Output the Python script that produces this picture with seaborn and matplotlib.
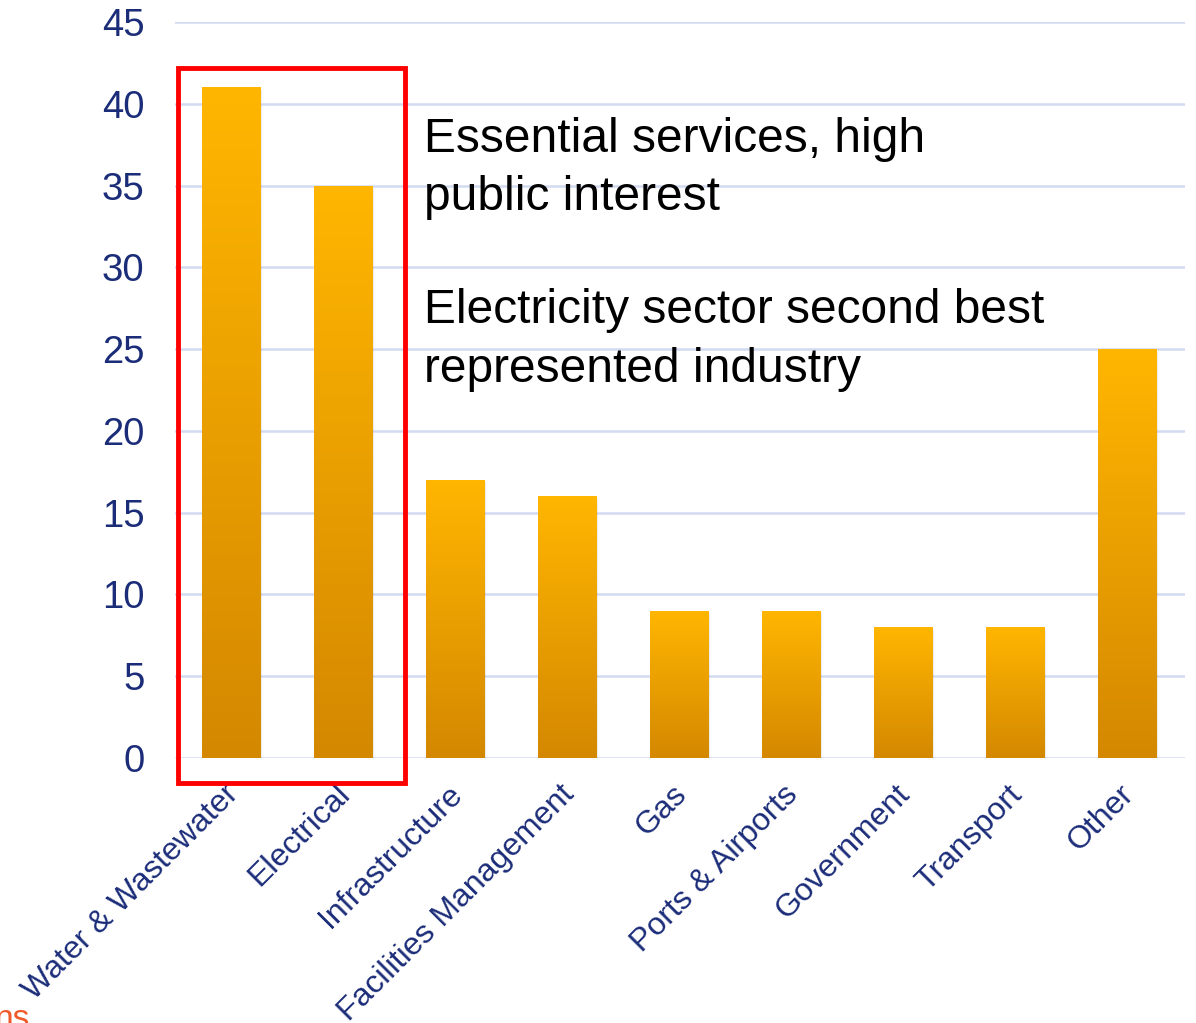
import numpy as np
import pandas as pd
import matplotlib
matplotlib.use("Agg")
import matplotlib.pyplot as plt
from matplotlib.patches import Rectangle
from matplotlib.colors import LinearSegmentedColormap
import matplotlib.transforms as mtransforms
import seaborn as sns

categories = ["Water & Wastewater", "Electrical", "Infrastructure", "Facilities Management",
              "Gas", "Ports & Airports", "Government", "Transport", "Other"]
counts = [41, 35, 17, 16, 9, 9, 8, 8, 25]
yticks = [0, 5, 10, 15, 20, 25, 30, 35, 40, 45]
note_lines = ["Essential services, high", "public interest",
              "Electricity sector second best", "represented industry"]
note_baselines = [37.04, 33.5, 26.59, 22.98]

sns.set_theme(style="white")
plt.rcParams['font.family'] = ['Liberation Sans', 'DejaVu Sans']

navy = "#1B2C78"
df = pd.DataFrame({"category": categories, "count": counts})

fig = plt.figure(figsize=(11.96, 10.23), dpi=100)
ax = fig.add_axes([175/1196, 1-758/1023, (1185-175)/1196, (758-22)/1023])

sns.barplot(data=df, x="category", y="count", ax=ax, color="#E8A000", width=0.52,
            saturation=1, edgecolor="none", zorder=3)

cmap = LinearSegmentedColormap.from_list("g", ["#D48800", "#FFB600"])
grad = np.linspace(0, 1, 256).reshape(-1, 1)
for p in list(ax.patches):
    x0, y0 = p.get_x(), p.get_y()
    w, h = p.get_width(), p.get_height()
    sh = Rectangle((x0 + 0.02, y0 - 0.15), w, h, facecolor="#000000", alpha=0.07,
                   edgecolor="none", zorder=2)
    ax.add_patch(sh)
    im = ax.imshow(grad, cmap=cmap, extent=(x0, x0 + w, y0, y0 + h), origin="lower",
                   aspect="auto", zorder=4)
    im.set_clip_path(p)
    p.set_alpha(0)

ax.set_xlim(-0.5, 8.52)
ax.set_ylim(0, 45)
ax.set_yticks(yticks)
ax.yaxis.grid(True, color="#D3DBF1", linewidth=1.8, zorder=0)
ax.set_axisbelow(True)
for s in ax.spines.values():
    s.set_visible(False)
ax.set_xlabel("")
ax.set_ylabel("")
ax.tick_params(axis="y", length=0, pad=22, labelsize=27.5, labelcolor=navy)
ax.tick_params(axis="x", length=0, pad=23, labelsize=23, labelcolor=navy)
ax.set_yticklabels([str(t) for t in yticks])
offset = mtransforms.ScaledTranslation(3/100, 0, fig.dpi_scale_trans)
for lab in ax.get_xticklabels():
    lab.set_rotation(45)
    lab.set_ha("right")
    lab.set_va("center")
    lab.set_rotation_mode("anchor")
    lab.set_transform(lab.get_transform() + offset)

# red highlight box
box = Rectangle((-0.475, -1.5), 2.025, 43.7, fill=False, edgecolor="#FF0000",
                linewidth=3.5, clip_on=False, zorder=6)
ax.add_patch(box)

for line, yb in zip(note_lines, note_baselines):
    ax.text(1.72, yb, line, fontsize=34.5, color="black", va="baseline", ha="left", zorder=7)

fig.text(-0.004, -0.012, "ns", fontsize=24, color="#F05A28", ha="left", va="bottom")

fig.savefig("out.png", dpi=100)
